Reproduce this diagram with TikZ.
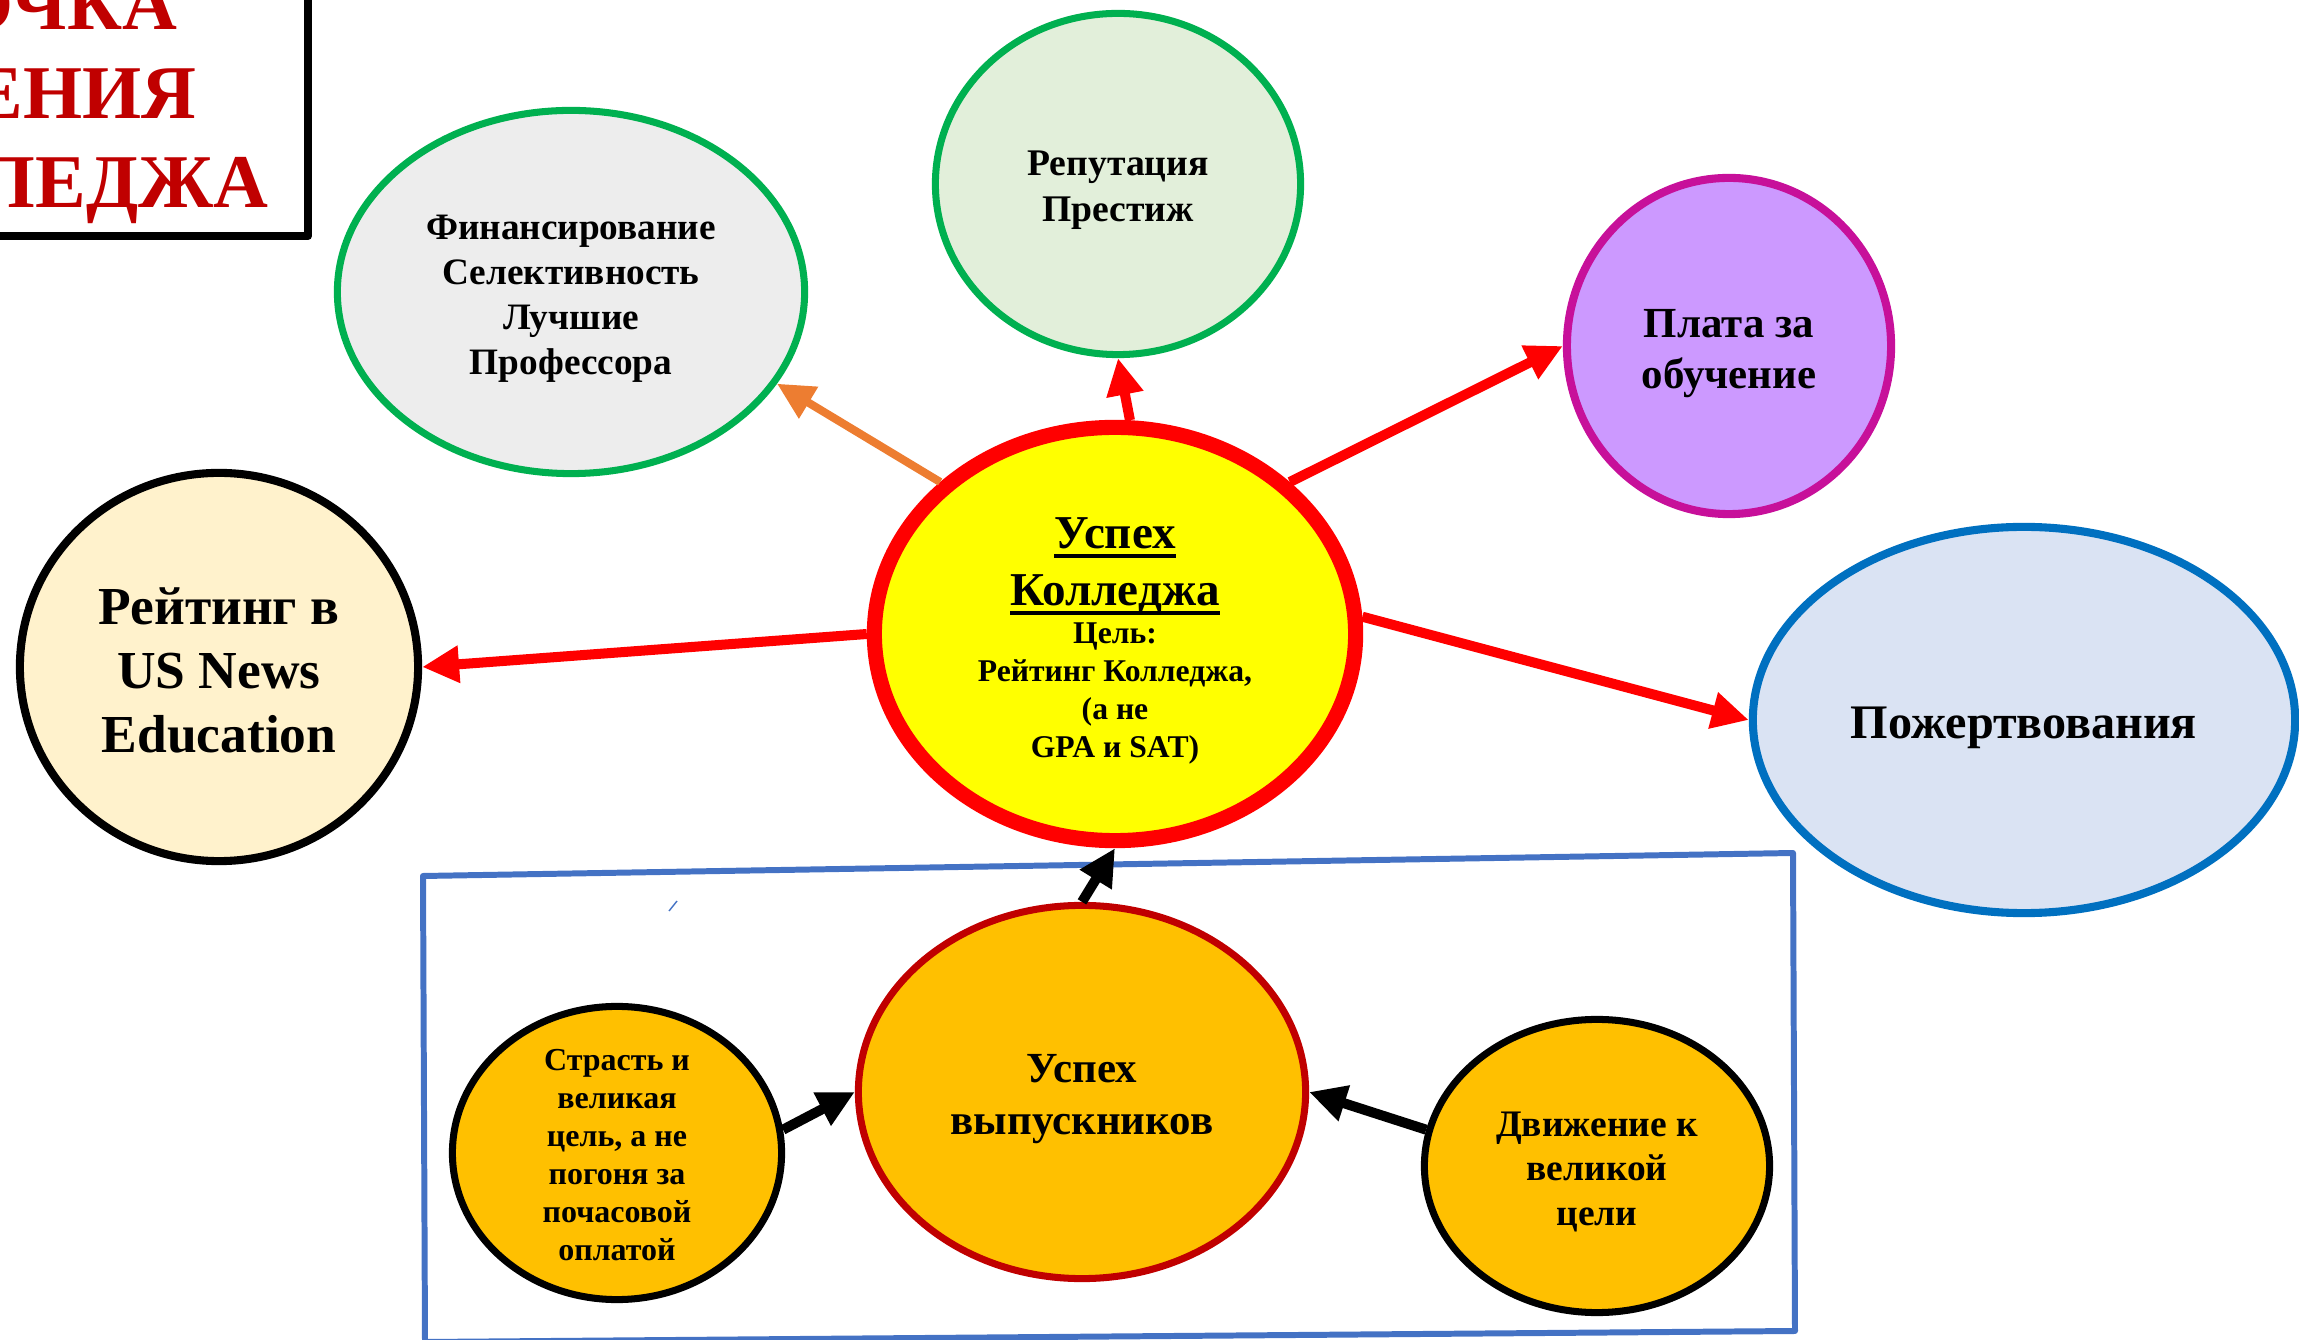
\documentclass[tikz,border=0pt]{standalone}
\usepackage{fontspec}
\setmainfont{Liberation Serif}
\usetikzlibrary{shapes.geometric,arrows.meta}
\definecolor{titlered}{HTML}{C00000}
\definecolor{coregold}{HTML}{FFFF00}
\definecolor{corered}{HTML}{FF0000}
\definecolor{leafgreen}{HTML}{00B050}
\definecolor{fundfill}{HTML}{EDEDED}
\definecolor{repfill}{HTML}{E2EFDA}
\definecolor{feefill}{HTML}{CC99FF}
\definecolor{feeedge}{HTML}{C7109A}
\definecolor{rankfill}{HTML}{FFF2CC}
\definecolor{donfill}{HTML}{DAE3F3}
\definecolor{donedge}{HTML}{0070C0}
\definecolor{goalfill}{HTML}{FFC000}
\definecolor{frameblue}{HTML}{4472C4}
\definecolor{fundorange}{HTML}{ED7D31}
\newcommand{\fsz}[2]{\fontsize{#1}{#2}\selectfont}
\newcommand{\ulword}[1]{\setbox0\hbox{#1}\rlap{\raisebox{-2.8pt}{\rule{\wd0}{1.1pt}}}\box0}
\newcommand{\pptstrut}{\rule{0pt}{1em}}
\newcommand{\pptdepth}{\rule[-0.2em]{0pt}{0pt}}
\begin{document}
\begin{tikzpicture}[x=0.01cm,y=-0.01cm,line join=round,
		>={Triangle[length=10.5pt,width=10pt]},
		bubble/.style={ellipse,inner sep=0pt,align=center},
		redarrow/.style={->,draw=corered,line width=2.85pt},
		blackarrow/.style={->,draw=black,line width=2.85pt}]
	\useasboundingbox (0,0) rectangle (2299,1340);
	\clip (0,0) rectangle (2299,1340);
	% title box, cut by the page edge
	\draw[line width=2.3pt] (-280,-60) rectangle (308,236);
	\node[text=titlered,font=\bfseries\fsz{21.6pt}{25.3pt},align=center] (title) at (41,101) {ТОЧКА\\ЗРЕНИЯ\\КОЛЛЕДЖА};
	% frame round the graduates
	\path
	(423,876) coordinate (fa)
	(1793,853) coordinate (fb)
	(1795,1331) coordinate (fc)
	(425,1342) coordinate (fd)
	;
	\draw[frameblue,line width=1.7pt] (fa)--(fb)--(fc)--(fd)--cycle;
	\draw[frameblue,line width=0.4pt] (669,911)--(677,901);
	% bubbles
	\node[bubble,fill=coregold,draw=corered,line width=4.3pt,minimum width=4.81cm,minimum height=4.13cm,
		font=\bfseries\fsz{9pt}{10.8pt}] (core) at (1115,634)
		{\rule{0pt}{12.5pt}\fsz{13.4pt}{16.2pt}\ulword{Успех}\\[3.7pt]\fsz{13.4pt}{16.2pt}\ulword{Колледжа}\\Цель:\\Рейтинг Колледжа,\\(а не\\GPA и SAT)\pptdepth};
	\node[bubble,fill=fundfill,draw=leafgreen,line width=2pt,minimum width=4.67cm,minimum height=3.63cm,
		font=\bfseries\fsz{10.6pt}{12.8pt}] (fund) at (571,292)
		{\pptstrut Финансирование\\Селективность\\Лучшие\\Профессора\pptdepth};
	\node[bubble,fill=repfill,draw=leafgreen,line width=2pt,minimum width=3.65cm,minimum height=3.41cm,
		font=\bfseries\fsz{10.7pt}{13.1pt}] (rep) at (1118,184) {\pptstrut Репутация\\Престиж\pptdepth};
	\node[bubble,fill=feefill,draw=feeedge,line width=2.3pt,minimum width=3.24cm,minimum height=3.36cm,
		font=\bfseries\fsz{12.2pt}{14.5pt}] (fee) at (1729,346) {\pptstrut Плата за\\обучение\pptdepth};
	\node[bubble,fill=rankfill,draw=black,line width=2.3pt,minimum width=3.98cm,minimum height=3.88cm,
		font=\bfseries\fsz{15.2pt}{18.2pt}] (rank) at (219,667) {\pptstrut Рейтинг в\\US News\\Education\pptdepth};
	\node[bubble,fill=donfill,draw=donedge,line width=2.3pt,minimum width=5.42cm,minimum height=3.86cm,
		font=\bfseries\fsz{13.7pt}{16pt}] (don) at (2024,720) {\pptstrut Пожертвования\pptdepth};
	\node[bubble,fill=goalfill,draw=titlered,line width=2pt,minimum width=4.47cm,minimum height=3.73cm,
		font=\bfseries\fsz{12.2pt}{14.8pt}] (grad) at (1082,1092) {\pptstrut Успех\\выпускников\pptdepth};
	\node[bubble,fill=goalfill,draw=black,line width=2pt,minimum width=3.29cm,minimum height=2.93cm] (passion) at (617,1153) {};
	\node[align=center,font=\bfseries\fsz{9.1pt}{10.8pt}] (passiontext) at (passion)
		{\pptstrut Страсть и\\великая\\цель, а не\\погоня за\\почасовой\\оплатой\pptdepth};
	\node[bubble,fill=goalfill,draw=black,line width=2pt,minimum width=3.45cm,minimum height=2.93cm,
		font=\bfseries\fsz{10.65pt}{12.6pt}] (move) at (1597,1166) {\pptstrut Движение к\\великой\\цели\pptdepth};
	% arrows
	\foreach \from/\to in {core.86/rep.-90,core.41/fee.180,core.180/rank.0,core.4/don.180}
	\draw[redarrow] (\from) -- (\to);
	\draw[->,draw=fundorange,line width=2.3pt] (core.139) -- (fund.-24);
	\foreach \from/\to in {grad.90/core.-90,passion.8/grad.180,move.168/grad.0}
	\draw[blackarrow] (\from) -- (\to);
\end{tikzpicture}
\end{document}
